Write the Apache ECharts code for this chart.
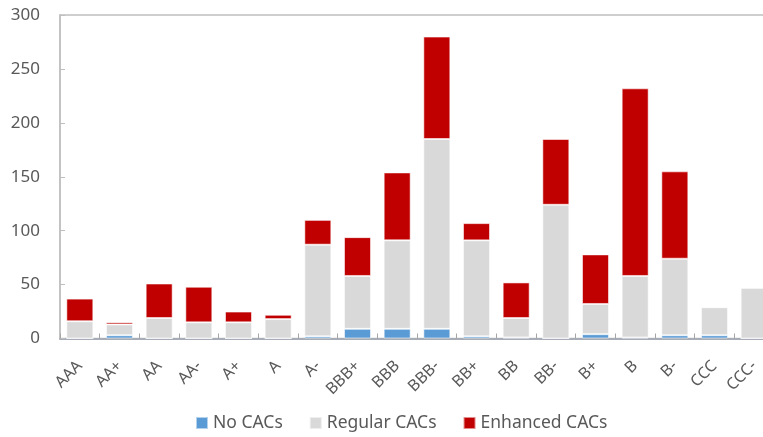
<!DOCTYPE html>
<html>
<head>
<meta charset="utf-8">
<script src="https://cdn.jsdelivr.net/npm/echarts@6/dist/echarts.min.js"></script>
<style>html,body{margin:0;padding:0;background:#fff;}#c{width:763px;height:437px;}</style>
</head>
<body>
<div id="c"></div>
<script>
const categories = ["AAA","AA+","AA","AA-","A+","A","A-","BBB+","BBB","BBB-","BB+","BB","BB-","B+","B","B-","CCC","CCC-"];
const noCACs =       [0, 3, 0, 0, 0, 0, 2, 9, 9, 9, 2, 1, 0, 4, 1, 3, 3, 0];
const regularCACs =  [16, 10, 19, 15, 15, 18, 85, 49, 82, 176, 89, 18, 124, 28, 57, 71, 26, 47];
const enhancedCACs = [21, 2, 32, 33, 10, 4, 23, 36, 63, 95, 16, 33, 61, 46, 174, 81, 0, 0];
const yTicks = [0, 50, 100, 150, 200, 250, 300];

const font = '"Noto Sans", sans-serif';
const txt = '#595959';
const chart = echarts.init(document.getElementById('c'), null, {renderer: 'canvas'});
const barBorder = {borderColor: 'rgba(255,255,255,0.55)', borderWidth: 1};
chart.setOption({
  animation: false,
  backgroundColor: '#ffffff',
  grid: {left: 60, top: 15, width: 714, height: 323.5, outerBoundsMode: 'none', containLabel: false,
         show: true, borderColor: '#bfbfbf', borderWidth: 1.5, backgroundColor: 'transparent'},
  legend: {
    top: 414, left: 195, padding: 0,
    itemWidth: 12, itemHeight: 12, itemGap: 26,
    icon: 'rect',
    textStyle: {fontFamily: font, fontSize: 17.5, color: txt},
    data: ['No CACs', 'Regular CACs', 'Enhanced CACs']
  },
  xAxis: {
    type: 'category',
    data: categories,
    axisLine: {show: true, lineStyle: {color: '#a6adb6', width: 2}},
    axisTick: {show: true, inside: true, length: 5, alignWithLabel: false, lineStyle: {color: '#a6a6a6', width: 1}},
    axisLabel: {rotate: 45, interval: 0, margin: 25, fontFamily: font, fontSize: 16, color: txt}
  },
  yAxis: {
    type: 'value',
    min: yTicks[0], max: yTicks[yTicks.length - 1], interval: 50,
    axisLine: {show: true, lineStyle: {color: '#bfbfbf', width: 1.5}},
    axisTick: {show: true, inside: true, length: 5, lineStyle: {color: '#bfbfbf'}},
    splitLine: {show: false},
    axisLabel: {margin: 20, fontFamily: font, fontSize: 17, color: txt}
  },
  series: [
    {name: 'No CACs', type: 'bar', stack: 's', data: noCACs, barWidth: 27, itemStyle: Object.assign({color: '#5b9bd5'}, barBorder)},
    {name: 'Regular CACs', type: 'bar', stack: 's', data: regularCACs, barWidth: 27, itemStyle: Object.assign({color: '#d9d9d9'}, barBorder)},
    {name: 'Enhanced CACs', type: 'bar', stack: 's', data: enhancedCACs, barWidth: 27, itemStyle: Object.assign({color: '#c00000'}, barBorder)}
  ]
});
</script>
</body>
</html>
